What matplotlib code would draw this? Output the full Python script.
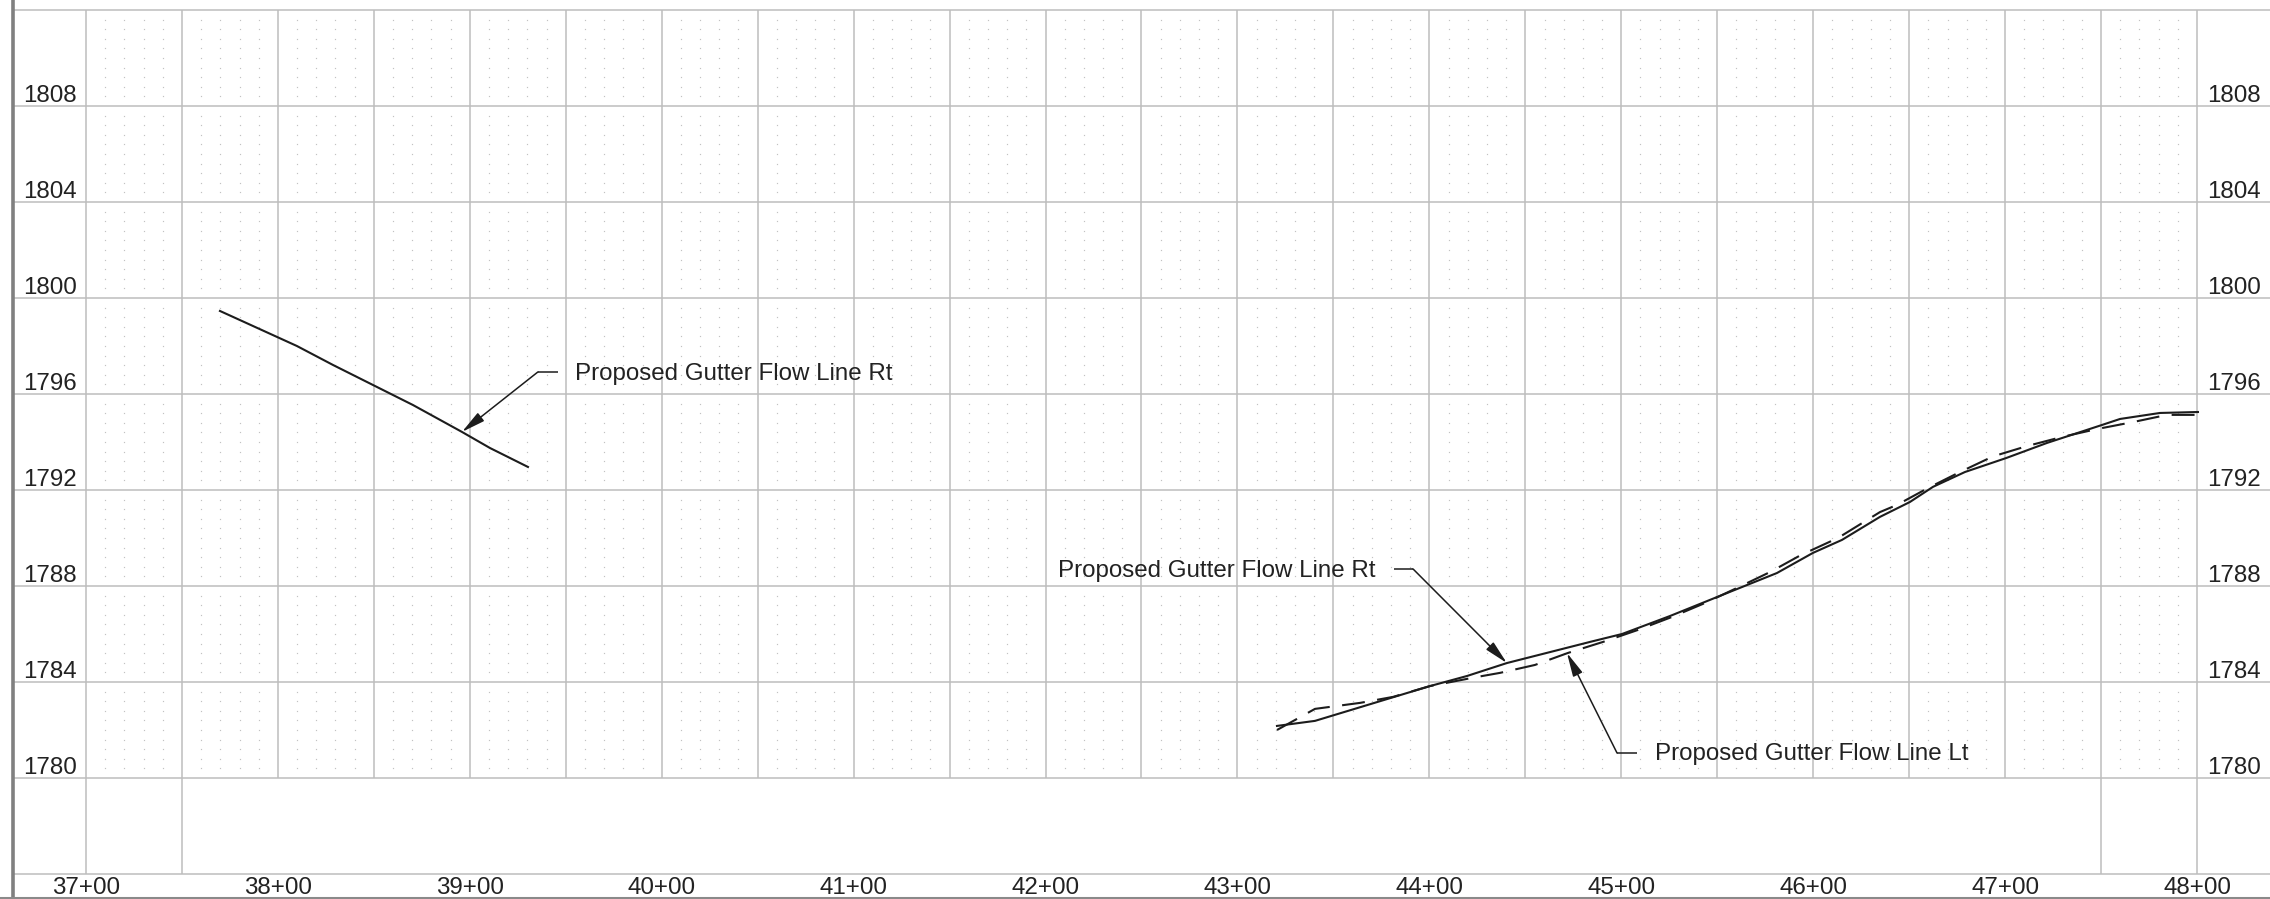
import matplotlib
matplotlib.use("Agg")
import matplotlib.pyplot as plt
import numpy as np

plt.rcParams['font.family'] = ['Liberation Sans', 'DejaVu Sans']

# ---------------- data ----------------
# Proposed Gutter Flow Line Rt (west segment)
rt1_sta = [3769.8, 3809.9, 3828.7, 3870.4, 3895.9, 3910.5, 3930.3]
rt1_elev = [1799.46, 1798.00, 1797.21, 1795.54, 1794.42, 1793.75, 1792.96]

# Proposed Gutter Flow Line Rt (east segment)
rt2_sta = [4320.6, 4340.4, 4400.3, 4419.6, 4440.4, 4483.7, 4500.4, 4525.4, 4549.9,
           4565.5, 4581.1, 4599.9, 4615.0, 4634.8, 4650.4, 4662.4, 4679.1, 4700.5,
           4721.8, 4750.5, 4759.9, 4780.7, 4800.5]
rt2_elev = [1782.17, 1782.38, 1783.83, 1784.25, 1784.79, 1785.67, 1786.00, 1786.75, 1787.54,
            1788.04, 1788.54, 1789.38, 1789.92, 1790.88, 1791.50, 1792.13, 1792.75, 1793.33,
            1793.96, 1794.71, 1794.96, 1795.21, 1795.25]

# Proposed Gutter Flow Line Lt
lt_sta = [4320.6, 4340.4, 4363.9, 4381.1, 4400.3, 4424.8, 4436.8, 4455.0, 4472.2, 4483.7,
          4490.5, 4508.7, 4526.4, 4543.6, 4560.3, 4577.5, 4593.6, 4612.9, 4634.8, 4643.7,
          4659.8, 4676.5, 4693.7, 4711.4, 4729.6, 4747.9, 4766.6, 4784.4, 4800.5]
lt_elev = [1782.00, 1782.88, 1783.13, 1783.38, 1783.83, 1784.21, 1784.38, 1784.71, 1785.21, 1785.50,
           1785.67, 1786.17, 1786.71, 1787.29, 1787.92, 1788.58, 1789.29, 1790.00, 1791.08, 1791.38,
           1792.08, 1792.75, 1793.40, 1793.83, 1794.21, 1794.54, 1794.83, 1795.13, 1795.13]

# axis ticks
y_ticks = [1780, 1784, 1788, 1792, 1796, 1800, 1804, 1808]
x_ticks = [3700, 3800, 3900, 4000, 4100, 4200, 4300, 4400, 4500, 4600, 4700, 4800]
x_labels = ["37+00", "38+00", "39+00", "40+00", "41+00", "42+00",
            "43+00", "44+00", "45+00", "46+00", "47+00", "48+00"]

# annotations
ann_text = ["Proposed Gutter Flow Line Rt", "Proposed Gutter Flow Line Rt",
            "Proposed Gutter Flow Line Lt"]
ann_tip_sta = [3895.9, 4440.4, 4471.7]
ann_tip_elev = [1794.42, 1784.79, 1785.21]
ann_elbow_sta = [3935.5, 4391.5, 4497.8]
ann_elbow_elev = [1796.92, 1788.71, 1781.04]
ann_end_sta = [3945.9, 4381.6, 4508.2]
ann_text_sta = [3954.8, 4371.7, 4517.6]
ann_text_ha = ["left", "right", "left"]
ann_text_base = [1796.60, 1788.38, 1780.75]

# ---------------- figure ----------------
W, H = 2270, 899
fig = plt.figure(figsize=(W / 100, H / 100), dpi=100)
ax = fig.add_axes([0, 0, 1, 1])
pxf = 1100 / (2197 - 86)  # ft per px
x0 = 3700 - 86 * pxf
x1 = 3700 + (W - 86) * pxf
y1 = 1780 + 778 / 24
y0 = 1780 - (H - 778) / 24
ax.set_xlim(x0, x1)
ax.set_ylim(y0, y1)
ax.axis('off')

grid_c = '#bdbdbd'
left_x = 3700 - 73 * pxf

# horizontal major lines
for e in range(1776, 1813, 4):
    ax.plot([left_x, x1], [e, e], color=grid_c, lw=1.1, zorder=1, solid_capstyle='butt')
# vertical major lines
for s in range(3700, 4801, 50):
    ax.plot([s, s], [1780, 1812], color=grid_c, lw=1.1, zorder=1, solid_capstyle='butt')
for s in [3700, 3750, 4750, 4800]:
    ax.plot([s, s], [1776, 1780], color=grid_c, lw=1.1, zorder=1, solid_capstyle='butt')

# minor dots
ds = [3700 + 10 * k for k in range(1, 110) if k % 5 != 0]
de = [1780 + 0.4 * j for j in range(1, 80) if j % 10 != 0]
DS, DE = np.meshgrid(ds, de)
ax.plot(DS.ravel(), DE.ravel(), linestyle='none', marker='s', markersize=0.85,
        mew=0, color='#c2c2c2', zorder=1)

# borders
fig.add_artist(plt.Line2D([13 / W, 13 / W], [0, 1], color='#808080', lw=2.6))
fig.add_artist(plt.Line2D([0, 1], [1.2 / H, 1.2 / H], color='#8a8a8a', lw=2.2))

# profile lines
lc = '#1c1c1c'
ax.plot(rt1_sta, rt1_elev, color=lc, lw=1.5, zorder=3)
ax.plot(rt2_sta, rt2_elev, color=lc, lw=1.5, zorder=3)
ax.plot(lt_sta, lt_elev, color=lc, lw=1.5, dashes=(11, 6), zorder=3)

# tick labels
tc = '#222222'
fs = 17.4
for e in y_ticks:
    ax.text(3700 - 63 * pxf, e + 4 / 24, str(e), ha='left', va='baseline', fontsize=fs, color=tc)
    ax.text(4800 + 10 * pxf, e + 4 / 24, str(e), ha='left', va='baseline', fontsize=fs, color=tc)
for s, lab in zip(x_ticks, x_labels):
    ax.text(s, 1780 - 116 / 24, lab, ha='center', va='baseline', fontsize=fs, color=tc)

# annotations
for i in range(len(ann_text)):
    ax.plot([ann_end_sta[i], ann_elbow_sta[i]], [ann_elbow_elev[i], ann_elbow_elev[i]],
            color=lc, lw=1.1, zorder=4, solid_capstyle='butt')
    ax.annotate('', xy=(ann_tip_sta[i], ann_tip_elev[i]),
                xytext=(ann_elbow_sta[i], ann_elbow_elev[i]),
                arrowprops=dict(arrowstyle='-|>,head_length=1.2,head_width=0.26',
                                lw=1.1, color=lc, shrinkA=0, shrinkB=0,
                                mutation_scale=12), zorder=4)
    ax.text(ann_text_sta[i], ann_text_base[i], ann_text[i], ha=ann_text_ha[i],
            va='baseline', fontsize=fs, color=tc, zorder=5)

fig.savefig('out.png', dpi=100)
